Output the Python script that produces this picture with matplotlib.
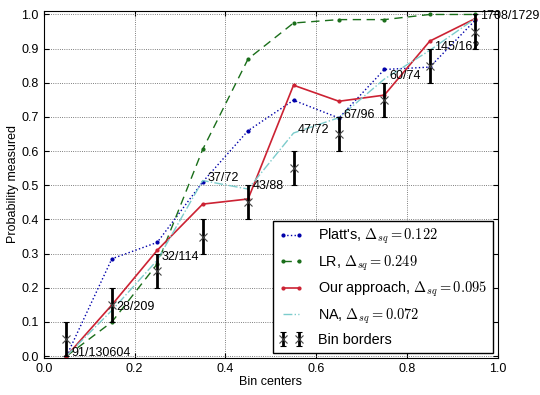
import matplotlib
matplotlib.use('Agg')
import matplotlib.pyplot as plt
import numpy as np

plt.rcParams['mathtext.fontset'] = 'cm'
plt.rcParams['font.family'] = ['Liberation Sans', 'DejaVu Sans']

centers = [0.05, 0.15, 0.25, 0.35, 0.45, 0.55, 0.65, 0.75, 0.85, 0.95]
platt = [0.0, 0.285, 0.333, 0.51, 0.66, 0.749, 0.697, 0.839, 0.846, 0.983]
lr = [0.0, 0.10, 0.27, 0.605, 0.87, 0.975, 0.985, 0.985, 1.0, 1.0]
ours = [0.0, 0.15, 0.31, 0.445, 0.46, 0.793, 0.746, 0.764, 0.922, 0.988]
counts = ['91/130604', '28/209', '32/114', '37/72', '43/88',
          '47/72', '67/96', '60/74', '145/162', '1708/1729']
na = [0.0007, 0.134, 0.281, 0.514, 0.489, 0.653, 0.698, 0.811, 0.895, 0.988]
bin_mid = [0.05, 0.15, 0.25, 0.35, 0.45, 0.55, 0.65, 0.75, 0.85, 0.95]
bin_half = 0.05

fig = plt.figure(figsize=(5.4, 3.95), dpi=100)
ax = fig.add_axes([0.081, 0.094, 0.841, 0.878])

ax.plot(centers, platt, ':', color='#0000aa', marker='.', ms=4, lw=1,
        label=r"Platt's, $\Delta_{sq}=0.122$")
ax.plot(centers, lr, '--', color='#1a6e1a', marker='.', ms=4, lw=1,
        dashes=(6, 4), label=r"LR, $\Delta_{sq}=0.249$")
ax.plot(centers, ours, '-', color='#cc2233', marker='.', ms=4, lw=1.2,
        label=r"Our approach, $\Delta_{sq}=0.095$")
ax.plot(centers, na, '-.', color='#7ccccc', lw=1,
        label=r"NA, $\Delta_{sq}=0.072$")
ax.errorbar(bin_mid, bin_mid, yerr=bin_half, fmt='x', color='k', ecolor='k',
            elinewidth=2, capsize=2, ms=6, mec='#444444', mew=0.8,
            label='Bin borders')

for x, y, s in zip(centers, na, counts):
    ax.text(x + 0.01, y, s, fontsize=9, va='baseline')

ax.set_xlim(0, 1.0)
ax.set_ylim(-0.005, 1.01)
ax.set_xticks(np.arange(0, 1.01, 0.2))
ax.set_yticks(np.arange(0, 1.01, 0.1))
ax.tick_params(direction='in', labelsize=9, top=True, right=True)
ax.grid(True, linestyle=':', color='#555555', lw=0.6)
ax.set_xlabel('Bin centers', fontsize=9, labelpad=1)
ax.set_ylabel('Probability measured', fontsize=9, labelpad=2)

leg = ax.legend(loc='lower right', numpoints=2, fontsize=10.4, fancybox=False,
                framealpha=1, edgecolor='k', borderaxespad=0.35,
                labelspacing=0.5, handlelength=1.7, handletextpad=1.0)
leg.get_frame().set_linewidth(1)

fig.savefig('out.png', dpi=100)
